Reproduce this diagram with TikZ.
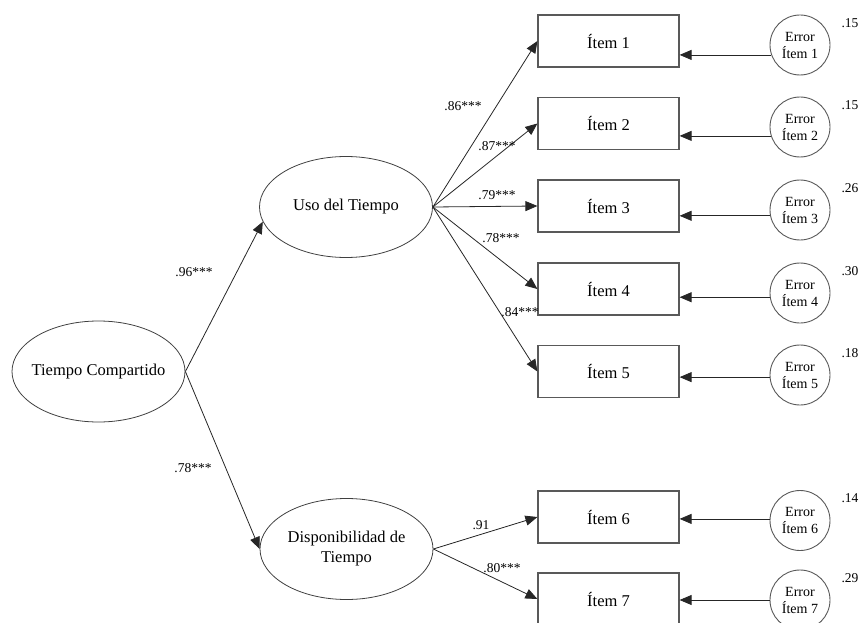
\documentclass[tikz,border=0pt]{standalone}
\usepackage{fontspec}
\setmainfont{Liberation Serif}
\usetikzlibrary{arrows.meta,shapes.geometric}

\tikzset{
  latent/.style={ellipse, draw=black!75, line width=0.8pt, minimum width=173pt,
    minimum height=101pt, inner sep=0pt,
    label={[align=center, font=\fontsize{16.5}{20}\selectfont]center:#1}},
  itembox/.style={rectangle, draw=black!65, line width=1.2pt, minimum width=141pt,
    minimum height=52pt, inner sep=0pt, font=\fontsize{16.5}{20}\selectfont},
  errcirc/.style={circle, draw=black!65, line width=0.9pt, minimum size=60pt,
    inner sep=0pt, align=center, font=\fontsize{14}{17}\selectfont},
  coef/.style={inner sep=0pt, font=\fontsize{13.5}{16}\selectfont},
  arr/.style={-{Triangle[length=12pt,width=10pt]}, line width=0.8pt, draw=black!85}
}

\begin{document}
\begin{tikzpicture}[x=1pt,y=1pt]
\useasboundingbox (0,0) rectangle (862,-623);

% Latent factors
\node [latent={Tiempo Compartido}] (tc) at (98.5,-371.5) {};
\node [latent={Uso del Tiempo}] (uso) at (346,-207) {};
\node [latent={Disponibilidad de\\Tiempo}] (disp) at (346.5,-549) {};

% Item nodes here
\node [itembox] (i1) at (608.5,-41) {Ítem 1};
\node [itembox] (i2) at (608.5,-123.5) {Ítem 2};
\node [itembox] (i3) at (608.5,-206) {Ítem 3};
\node [itembox] (i4) at (608.5,-289) {Ítem 4};
\node [itembox] (i5) at (608.5,-371.5) {Ítem 5};
\node [itembox] (i6) at (608.5,-517) {Ítem 6};
\node [itembox] (i7) at (608.5,-599) {Ítem 7};

% Error nodes
\node [errcirc] (e1) at (800,-45) {Error\\Ítem 1};
\node [errcirc] (e2) at (800,-127) {Error\\Ítem 2};
\node [errcirc] (e3) at (800,-210) {Error\\Ítem 3};
\node [errcirc] (e4) at (800,-293) {Error\\Ítem 4};
\node [errcirc] (e5) at (800,-375) {Error\\Ítem 5};
\node [errcirc] (e6) at (800,-520.5) {Error\\Ítem 6};
\node [errcirc] (e7) at (800,-600) {Error\\Ítem 7};

% Error variances
\node [coef] (v1) at (850,-23) {.15};
\node [coef] (v2) at (850,-105) {.15};
\node [coef] (v3) at (850,-188) {.26};
\node [coef] (v4) at (850,-271) {.30};
\node [coef] (v5) at (850,-353) {.18};
\node [coef] (v6) at (850,-498.5) {.14};
\node [coef] (v7) at (850,-578) {.29};

% second order paths
\draw [arr] (tc.east) -- (uso.190);
\draw [arr] (tc.east) -- (disp.west);
\node [coef] (c96) at (194,-272) {.96***};
\node [coef] (c78a) at (193,-468) {.78***};

% Uso del Tiempo loadings
\draw [arr] (uso.east) -- (i1.west);
\draw [arr] (uso.east) -- (i2.west);
\draw [arr] (uso.east) -- (i3.west);
\draw [arr] (uso.east) -- (i4.west);
\draw [arr] (uso.east) -- (i5.west);
\node [coef] (c86) at (463,-106) {.86***};
\node [coef] (c87) at (497,-146) {.87***};
\node [coef] (c79) at (497,-195) {.79***};
\node [coef] (c78b) at (501,-238) {.78***};
\node [coef] (c84) at (520,-312) {.84***};

% Disponibilidad loadings
\draw [arr] (disp.east) -- (i6.west);
\draw [arr] (disp.east) -- (i7.west);
\node [coef] (c91) at (481,-525) {.91};
\node [coef] (c80) at (502,-568) {.80***};

% Errors into items
\draw [arr] (e1.199) -- (e1.199 -| i1.east);
\draw [arr] (e2.197) -- (e2.197 -| i2.east);
\draw [arr] (e3.191) -- (e3.191 -| i3.east);
\draw [arr] (e4.188) -- (e4.188 -| i4.east);
\draw [arr] (e5.184) -- (e5.184 -| i5.east);
\draw [arr] (e6.177) -- (e6.177 -| i6.east);
\draw [arr] (e7.180) -- (e7.180 -| i7.east);
\end{tikzpicture}
\end{document}
